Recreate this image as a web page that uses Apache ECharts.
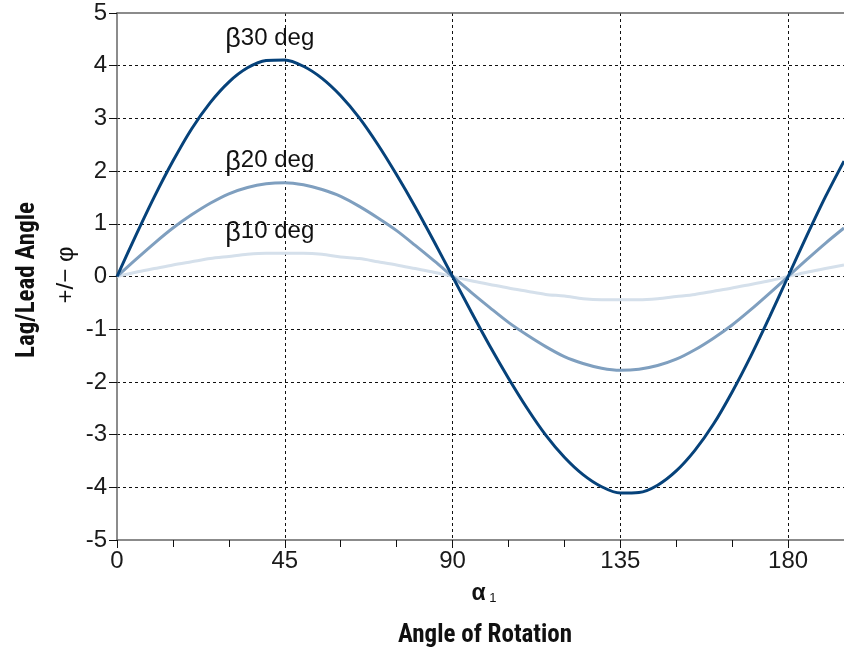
<!DOCTYPE html>
<html>
<head>
<meta charset="utf-8">
<script src="https://cdn.jsdelivr.net/npm/echarts@6/dist/echarts.min.js"></script>
<style>
    html, body { margin: 0; padding: 0; background: #fff; overflow: hidden; }
    #lagChart { width: 844px; height: 650px; }
</style>
</head>
<body>
<div id="lagChart"></div>
<script>
// rotation angle of input shaft (deg), every 5 deg
var alphaDeg = [0, 5, 10, 15, 20, 25, 30, 35, 40, 45, 50, 55, 60, 65, 70, 75, 80, 85, 90,
    95, 100, 105, 110, 115, 120, 125, 130, 135, 140, 145, 150, 155, 160, 165, 170, 175, 180,
    185, 190, 195];

// lag/lead angle, one list per joint angle
var beta30 = [0, 0.77, 1.51, 2.19, 2.80, 3.30, 3.69, 3.96, 4.10, 4.11, 3.99, 3.76, 3.43, 3.01, 2.50, 1.93, 1.32, 0.67, 0,
    -0.67, -1.32, -1.93, -2.50, -3.01, -3.43, -3.76, -3.99, -4.11, -4.10, -3.96, -3.69, -3.30, -2.80, -2.19, -1.51, -0.77, 0,
    0.77, 1.51, 2.19];
var beta20 = [0, 0.32, 0.63, 0.92, 1.17, 1.39, 1.57, 1.69, 1.76, 1.78, 1.74, 1.65, 1.52, 1.33, 1.11, 0.87, 0.59, 0.30, 0,
    -0.30, -0.59, -0.87, -1.11, -1.33, -1.52, -1.65, -1.74, -1.78, -1.76, -1.69, -1.57, -1.39, -1.17, -0.92, -0.63, -0.32, 0,
    0.32, 0.63, 0.92];
var beta10 = [0, 0.08, 0.15, 0.22, 0.28, 0.34, 0.38, 0.42, 0.44, 0.44, 0.44, 0.42, 0.37, 0.34, 0.28, 0.22, 0.15, 0.08, 0,
    -0.08, -0.15, -0.22, -0.28, -0.34, -0.37, -0.42, -0.44, -0.44, -0.44, -0.42, -0.38, -0.34, -0.28, -0.22, -0.15, -0.08, 0,
    0.08, 0.15, 0.22];

var seriesNames = ['30 deg', '20 deg', '10 deg'];
var seriesColors = ['#06427a', '#7f9fbf', '#d5e0eb'];
var labelAlpha = 45;   // curve labels sit above the 45 deg crest

var textFont = '"Liberation Sans", Arial, Helvetica, sans-serif';
var titleFont = '"Liberation Sans Narrow", "Arial Narrow", "Roboto Condensed", "Liberation Sans", sans-serif';

function pairs(ys) {
    var out = [];
    for (var i = 0; i < alphaDeg.length; i++) {
        out.push([alphaDeg[i], ys[i]]);
    }
    return out;
}

function makeSeries(name, ys, color, z) {
    var k = alphaDeg.indexOf(labelAlpha);
    return {
        name: 'β' + name,
        type: 'line',
        data: pairs(ys),
        smooth: 0.3,
        symbol: 'none',
        z: z,
        lineStyle: { color: color, width: 3 },
        markPoint: {
            symbol: 'circle',
            symbolSize: 1,
            itemStyle: { color: 'rgba(0,0,0,0)' },
            data: [{ coord: [alphaDeg[k], ys[k]] }],
            label: {
                show: true,
                position: 'inside',
                formatter: '{b|β}{t|' + name + '}',
                offset: [-15, -22],
                rich: {
                    b: { fontSize: 27, color: '#111', fontFamily: textFont, padding: [4, 0, 0, 0] },
                    t: { fontSize: 24, color: '#111', fontFamily: textFont }
                }
            }
        }
    };
}

var dash = { color: '#111', width: 1, type: [3, 3] };

var option = {
    animation: false,
    grid: { left: 117, right: 0, top: 13, bottom: 110, outerBoundsMode: 'none' },
    xAxis: [
        {
            // minor ticks every 15 deg
            type: 'value', min: 0, max: 195, interval: 15, position: 'bottom',
            axisLine: { show: true, onZero: false, lineStyle: { color: '#666', width: 1.5 } },
            axisTick: { show: true, length: 7, lineStyle: { color: '#111' } },
            axisLabel: { show: false },
            splitLine: { show: false }
        },
        {
            // major labels / grid every 45 deg
            type: 'value', min: 0, max: 195, interval: 45, position: 'bottom',
            axisLine: { show: false, onZero: false },
            axisTick: { show: true, length: 8, lineStyle: { color: '#111' } },
            axisLabel: {
                color: '#1a1a1a', fontSize: 24, fontFamily: textFont, margin: 9,
                formatter: function (v) { return v % 45 === 0 ? String(v) : ''; }
            },
            splitLine: { show: true, showMinLine: false, showMaxLine: false, lineStyle: dash }
        },
        {
            // top frame line
            type: 'value', min: 0, max: 195, position: 'top',
            axisLine: { show: true, onZero: false, lineStyle: { color: '#666', width: 1.5 } },
            axisTick: { show: false }, axisLabel: { show: false }, splitLine: { show: false }
        }
    ],
    yAxis: {
        type: 'value', min: -5, max: 5, interval: 1,
        axisLine: { show: true, onZero: false, lineStyle: { color: '#666', width: 1.5 } },
        axisTick: { show: true, length: 8, lineStyle: { color: '#111' } },
        axisLabel: { color: '#1a1a1a', fontSize: 24, fontFamily: textFont, margin: 10 },
        splitLine: { show: true, showMinLine: false, showMaxLine: false, lineStyle: dash }
    },
    series: [
        makeSeries(seriesNames[2], beta10, seriesColors[2], 3),
        makeSeries(seriesNames[1], beta20, seriesColors[1], 4),
        makeSeries(seriesNames[0], beta30, seriesColors[0], 5)
    ],
    graphic: [
        {
            type: 'text', x: 28, y: 280, rotation: Math.PI / 2,
            style: {
                text: 'Lag/Lead Angle', fill: '#111', font: 'bold 25px ' + titleFont,
                align: 'center', verticalAlign: 'middle'
            }
        },
        {
            type: 'text', x: 66, y: 275, rotation: Math.PI / 2,
            style: {
                text: '+/− φ', fill: '#111', font: '24px ' + textFont,
                align: 'center', verticalAlign: 'middle'
            }
        },
        {
            type: 'text', x: 484, y: 594,
            style: {
                text: '{a|α}{s| 1}',
                align: 'center', verticalAlign: 'middle',
                rich: {
                    a: { fontSize: 23, fontWeight: 'bold', fill: '#111', fontFamily: textFont },
                    s: { fontSize: 13, fill: '#111', fontFamily: textFont, padding: [8, 0, 0, 0] }
                }
            }
        },
        {
            type: 'text', x: 485, y: 636,
            style: {
                text: 'Angle of Rotation', fill: '#111', font: 'bold 25px ' + titleFont,
                align: 'center', verticalAlign: 'middle'
            }
        }
    ]
};

var myChart = echarts.init(document.getElementById('lagChart'));
myChart.setOption(option, true);
</script>
</body>
</html>
